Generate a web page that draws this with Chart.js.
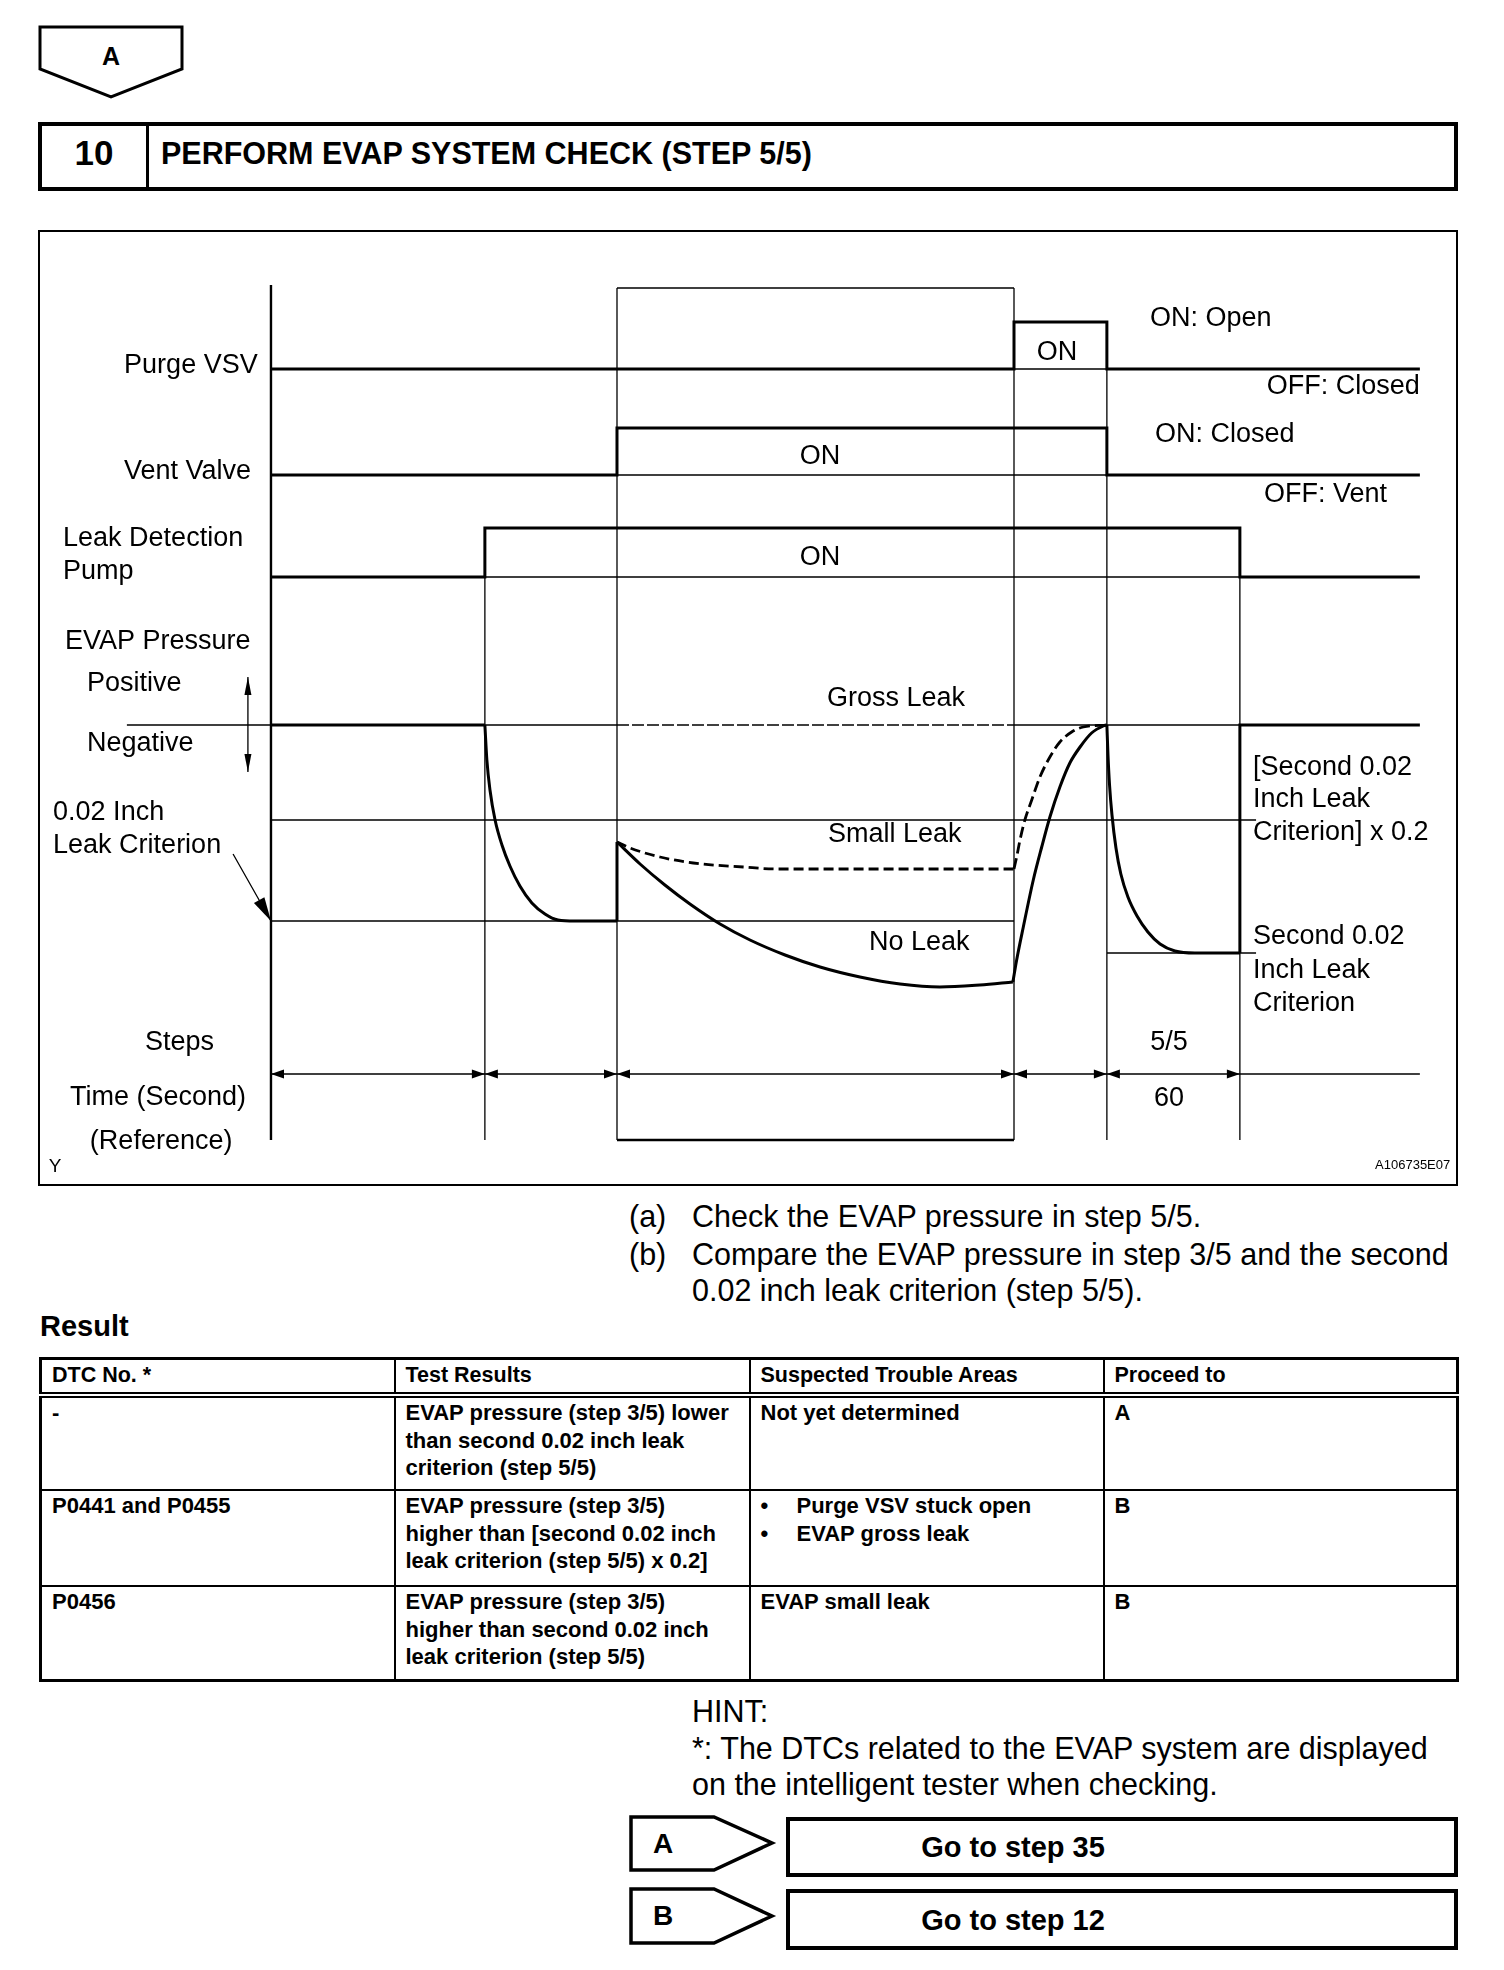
<!DOCTYPE html>
<html>
<head>
<meta charset="utf-8">
<title>Perform EVAP system check (step 5/5)</title>
<script src="https://cdn.jsdelivr.net/npm/chart.js@4.4.1/dist/chart.umd.min.js"></script>
<style>
	body { margin: 0; background: #fff; }
	#page { position: relative; width: 1504px; height: 1970px; overflow: hidden; color: #000;
		font-family: "Liberation Sans", Arial, Helvetica, sans-serif; }
	.abs { position: absolute; }
	.t { position: absolute; white-space: nowrap; height: 40px; line-height: 40px; }
	.b { font-weight: bold; }
	.txt { font-size: 30.5px; }
	#diagram { position: absolute; left: 38px; top: 230px; width: 1420px; height: 956px; }
	#res { position: absolute; left: 39px; top: 1357px; width: 1417px; border-collapse: collapse;
		table-layout: fixed; border: 3px solid #000; font-weight: bold; font-size: 22px; }
	#res td { border: 2px solid #000; vertical-align: top; padding: 1px 10px 0 10px;
		line-height: 27.5px; white-space: nowrap; }
	#res tr.hd td { border-bottom: 6px double #000; height: 32px; vertical-align: middle;
		padding-top: 0; font-size: 21.5px; }
	#res .bl span { display: inline-block; width: 36px; }
</style>
</head>
<body>
<div id="page">
	<svg class="abs" style="left:0;top:0" width="1504" height="1970">
		<g fill="none" stroke="#000" stroke-linejoin="miter">
			<polygon points="40,27 182,27 182,69 111,97 40,69" stroke-width="3"/>
			<rect x="40" y="124" width="1416" height="65" stroke-width="4"/>
			<line x1="147.5" y1="122" x2="147.5" y2="191" stroke-width="3"/>
			<rect x="39" y="231" width="1418" height="954" stroke-width="2"/>
			<polygon points="631,1817 714,1817 772,1843 714,1870 631,1870" stroke-width="3.5"/>
			<rect x="788" y="1819" width="668" height="56" stroke-width="4"/>
			<polygon points="631,1889 714,1889 772,1916 714,1943 631,1943" stroke-width="3.5"/>
			<rect x="788" y="1891" width="668" height="57" stroke-width="4"/>
		</g>
	</svg>

	<div class="t b" style="left:40px;width:142px;top:36px;text-align:center;font-size:25px">A</div>
	<div class="t b" style="left:42px;width:104px;top:133px;text-align:center;font-size:35px">10</div>
	<div class="t b" style="left:161px;top:133px;font-size:30.5px">PERFORM EVAP SYSTEM CHECK (STEP 5/5)</div>

	<canvas id="diagram" width="1420" height="956"></canvas>

	<div class="t txt" style="left:629px;top:1196px">(a)</div>
	<div class="t txt" style="left:692px;top:1196px">Check the EVAP pressure in step 5/5.</div>
	<div class="t txt" style="left:629px;top:1234px">(b)</div>
	<div class="t txt" style="left:692px;top:1234px">Compare the EVAP pressure in step 3/5 and the second</div>
	<div class="t txt" style="left:692px;top:1270px">0.02 inch leak criterion (step 5/5).</div>

	<div class="t b" style="left:40px;top:1306px;font-size:29px">Result</div>

	<table id="res">
		<colgroup><col style="width:354px"><col style="width:355px"><col style="width:354px"><col style="width:354px"></colgroup>
		<tr class="hd"><td>DTC No. *</td><td>Test Results</td><td>Suspected Trouble Areas</td><td>Proceed to</td></tr>
		<tr><td style="height:90px">-</td><td>EVAP pressure (step 3/5) lower<br>than second 0.02 inch leak<br>criterion (step 5/5)</td><td>Not yet determined</td><td>A</td></tr>
		<tr><td style="height:93px">P0441 and P0455</td><td>EVAP pressure (step 3/5)<br>higher than [second 0.02 inch<br>leak criterion (step 5/5) x 0.2]</td><td><div class="bl"><span>•</span>Purge VSV stuck open</div><div class="bl"><span>•</span>EVAP gross leak</div></td><td>B</td></tr>
		<tr><td style="height:91px">P0456</td><td>EVAP pressure (step 3/5)<br>higher than second 0.02 inch<br>leak criterion (step 5/5)</td><td>EVAP small leak</td><td>B</td></tr>
	</table>

	<div class="t txt" style="left:692px;top:1691px">HINT:</div>
	<div class="t txt" style="left:692px;top:1728px">*: The DTCs related to the EVAP system are displayed</div>
	<div class="t txt" style="left:692px;top:1764px">on the intelligent tester when checking.</div>

	<div class="t b" style="left:645px;width:36px;top:1824px;text-align:center;font-size:28px">A</div>
	<div class="t b" style="left:788px;width:450px;top:1827px;text-align:center;font-size:29px">Go to step 35</div>
	<div class="t b" style="left:645px;width:36px;top:1896px;text-align:center;font-size:28px">B</div>
	<div class="t b" style="left:788px;width:450px;top:1900px;text-align:center;font-size:29px">Go to step 12</div>
</div>

<script>
// ---- Data ----
// x: time (reference seconds, 60 s = step 5/5), y: diagram level units
const STEP_T = [0, 96.5, 156.1, 335.2, 377.1, 437.1];
const T_END = 518.3;

// on/off traces
const purgeVsv = [[0, 81.7], [335.2, 81.7], [335.2, 86.4], [377.1, 86.4], [377.1, 81.7], [518.3, 81.7]];
const ventValve = [[0, 71.1], [156.1, 71.1], [156.1, 75.8], [377.1, 75.8], [377.1, 71.1], [518.3, 71.1]];
const leakPump = [[0, 60.9], [96.5, 60.9], [96.5, 65.8], [437.1, 65.8], [437.1, 60.9], [518.3, 60.9]];

// EVAP pressure trace
const evapStart = [[0, 46.1], [96.5, 46.1]];
const evapPumpDown = [[96.5, 46.1], [97.4, 42.6], [98.8, 39.6], [101.1, 36.6], [104.2, 34.1], [107.8, 32.0],
	[112.3, 30.0], [117.7, 28.3], [123.6, 27.2], [129.5, 26.6], [137.1, 26.5], [156.1, 26.5]];
const evapJump = [[156.1, 26.5], [156.1, 34.4]];
const evapNoLeak = [[156.1, 34.4], [166.5, 32.2], [177.7, 30.1], [189.0, 28.2], [202.6, 26.2], [216.1, 24.6],
	[231.9, 23.1], [247.7, 21.9], [265.7, 20.9], [283.8, 20.2], [301.8, 19.9], [319.8, 20.1], [334.7, 20.4]];
const evapNoLeakRise = [[334.7, 20.4], [336.4, 22.6], [339.4, 25.9], [343.9, 30.6], [347.7, 33.9], [351.4, 36.9],
	[355.9, 39.9], [360.4, 42.3], [365.0, 43.9], [370.2, 45.3], [375.5, 46.0], [377.1, 46.1]];
const evapSmallLeak = [[156.1, 34.4], [162.0, 33.8], [175.5, 32.9], [190.5, 32.3], [213.1, 31.9], [228.1, 31.7], [335.2, 31.7]];
const evapSmallLeakRise = [[335.2, 31.7], [336.4, 32.9], [337.9, 34.6], [340.1, 36.6], [343.2, 38.6], [346.9, 40.9],
	[351.4, 42.9], [355.9, 44.4], [361.2, 45.4], [366.5, 45.9], [377.1, 46.1]];
const evapGrossLeak = [[156.1, 46.1], [335.2, 46.1]];
const evapStep5Drop = [[377.1, 46.1], [377.6, 43.1], [378.3, 40.1], [379.4, 37.1], [381.2, 33.8], [383.4, 31.2],
	[386.6, 28.9], [390.7, 27.0], [395.6, 25.4], [401.1, 24.2], [407.8, 23.5], [416.8, 23.3], [437.1, 23.3]];
const evapEnd = [[437.1, 23.3], [437.1, 46.1], [518.3, 46.1]];

// reference levels
const ATMOSPHERE = 46.1;
const CRIT_X02 = 36.6;
const CRIT_1 = 26.5;
const CRIT_2 = 23.3;
const STEP_ROW = 11.2;
const BOX_TOP = 89.8;
const AXIS_TOP = 90.1;
const BASE = 4.6;

const guideSegments = [
	[[-65, ATMOSPHERE], [0, ATMOSPHERE]],
	[[96.5, ATMOSPHERE], [156.1, ATMOSPHERE]],
	[[335.2, ATMOSPHERE], [437.1, ATMOSPHERE]],
	[[0, CRIT_X02], [444.4, CRIT_X02]],
	[[0, CRIT_1], [335.2, CRIT_1]],
	[[377.1, CRIT_2], [444.4, CRIT_2]],
	[[335.2, 81.7], [377.1, 81.7]],
	[[156.1, 71.1], [377.1, 71.1]],
	[[96.5, 60.9], [437.1, 60.9]],
	[[0, STEP_ROW], [T_END, STEP_ROW]],
	[[96.5, 65.8], [96.5, BASE]],
	[[156.1, BOX_TOP], [156.1, BASE]],
	[[335.2, BOX_TOP], [335.2, BASE]],
	[[377.1, 86.4], [377.1, BASE]],
	[[437.1, 65.8], [437.1, BASE]],
	[[156.1, BOX_TOP], [335.2, BOX_TOP]],
	[[-10.4, 50.9], [-10.4, 41.4]],
	[[-17.1, 33.2], [0, CRIT_1]],
];
const frameSegments = [
	[[0, AXIS_TOP], [0, BASE]],
	[[156.1, BASE], [335.2, BASE]],
];

const FONT = '27px "Liberation Sans", Arial, sans-serif';
const LABELS = [
	["Purge VSV", -6.0, 82.0, "right"],
	["Vent Valve", -9.0, 71.4, "right"],
	["Leak Detection", -93.8, 64.7, "left"],
	["Pump", -93.8, 61.4, "left"],
	["EVAP Pressure", -92.9, 54.4, "left"],
	["Positive", -83.0, 50.2, "left"],
	["Negative", -83.0, 44.2, "left"],
	["0.02 Inch", -98.3, 37.3, "left"],
	["Leak Criterion", -98.3, 34.0, "left"],
	["Steps", -56.8, 14.3, "left"],
	["Time (Second)", -90.7, 8.8, "left"],
	["(Reference)", -81.7, 4.4, "left"],
	["Y", -100.2, 1.9, "left", '19px "Liberation Sans", Arial, sans-serif'],
	["A106735E07", 532.0, 2.1, "right", '13px "Liberation Sans", Arial, sans-serif'],
	["ON", 354.6, 83.3, "center"],
	["ON: Open", 396.5, 86.7, "left"],
	["OFF: Closed", 518.3, 79.9, "right"],
	["ON", 247.7, 72.9, "center"],
	["ON: Closed", 398.8, 75.1, "left"],
	["OFF: Vent", 448.0, 69.1, "left"],
	["ON", 247.7, 62.8, "center"],
	["Gross Leak", 250.8, 48.7, "left"],
	["Small Leak", 251.3, 35.1, "left"],
	["No Leak", 269.8, 24.3, "left"],
	["[Second 0.02", 443.0, 41.8, "left"],
	["Inch Leak", 443.0, 38.6, "left"],
	["Criterion] x 0.2", 443.0, 35.3, "left"],
	["Second 0.02", 443.0, 24.9, "left"],
	["Inch Leak", 443.0, 21.5, "left"],
	["Criterion", 443.0, 18.2, "left"],
	["5/5", 405.1, 14.3, "center"],
	["60", 405.1, 8.7, "center"],
];

// arrowheads: tip x, tip y, from x, from y, length, half width
const ARROWS = [];
STEP_T.forEach((t, i) => {
	if (i > 0) ARROWS.push([t, STEP_ROW, t - 10, STEP_ROW, 13, 4.5]);
	if (i < STEP_T.length - 1) ARROWS.push([t, STEP_ROW, t + 10, STEP_ROW, 13, 4.5]);
});
ARROWS.push([-10.4, 50.9, -10.4, 46, 18, 3.5]);
ARROWS.push([-10.4, 41.4, -10.4, 46, 18, 3.5]);
ARROWS.push([0, CRIT_1, -17.1, 33.2, 24, 6]);

// ---- Helpers ----
const pts = (arr) => arr.map(([x, y]) => ({ x, y }));
const segs = (list) => list.flatMap((s) => [...pts(s), { x: s[s.length - 1][0], y: null }]);

function line(data, extra = {}) {
	return { data, showLine: true, borderColor: "#000", borderWidth: 3, tension: 0, ...extra };
}
function curve(arr, extra = {}) {
	return line(pts(arr), { cubicInterpolationMode: "monotone", ...extra });
}

function arrowHead(ctx, tx, ty, fx, fy, len, half) {
	const dx = tx - fx, dy = ty - fy, d = Math.hypot(dx, dy);
	const ux = dx / d, uy = dy / d;
	const bx = tx - ux * len, by = ty - uy * len;
	ctx.beginPath();
	ctx.moveTo(tx, ty);
	ctx.lineTo(bx - uy * half, by + ux * half);
	ctx.lineTo(bx + uy * half, by - ux * half);
	ctx.closePath();
	ctx.fill();
}

const diagramText = {
	id: "diagramText",
	afterDatasetsDraw(chart) {
		const { ctx } = chart;
		const { x, y } = chart.scales;
		ctx.save();
		ctx.fillStyle = "#000";
		ctx.textBaseline = "middle";
		for (const [text, tx, ty, align, font] of LABELS) {
			ctx.font = font || FONT;
			ctx.textAlign = align;
			ctx.fillText(text, x.getPixelForValue(tx), y.getPixelForValue(ty));
		}
		for (const [tx, ty, fx, fy, len, half] of ARROWS) {
			arrowHead(ctx, x.getPixelForValue(tx), y.getPixelForValue(ty),
				x.getPixelForValue(fx), y.getPixelForValue(fy), len, half);
		}
		ctx.restore();
	},
};

// ---- Chart ----
const datasets = [
	line(segs(guideSegments), { borderWidth: 1.3 }),
	line(segs(frameSegments), { borderWidth: 2.4 }),
	line(pts(purgeVsv)),
	line(pts(ventValve)),
	line(pts(leakPump)),
	line(pts(evapStart)),
	curve(evapPumpDown),
	line(pts(evapJump)),
	curve(evapNoLeak),
	curve(evapNoLeakRise),
	curve(evapSmallLeak, { borderDash: [10, 5], borderWidth: 2.8 }),
	curve(evapSmallLeakRise, { borderDash: [11, 5], borderWidth: 2.8 }),
	line(pts(evapGrossLeak), { borderDash: [12, 3], borderWidth: 1.5 }),
	curve(evapStep5Drop),
	line(pts(evapEnd)),
];

new Chart(document.getElementById("diagram"), {
	type: "scatter",
	data: { datasets },
	options: {
		responsive: false,
		animation: false,
		events: [],
		layout: { padding: 0 },
		plugins: { legend: { display: false }, tooltip: { enabled: false } },
		elements: {
			point: { radius: 0, hoverRadius: 0, hitRadius: 0 },
			line: { borderCapStyle: "butt", borderJoinStyle: "miter", fill: false },
		},
		scales: {
			x: { type: "linear", min: -105.1, max: 535.5, display: false },
			y: { type: "linear", min: 0, max: 95.6, display: false },
		},
	},
	plugins: [diagramText],
});
</script>
</body>
</html>
